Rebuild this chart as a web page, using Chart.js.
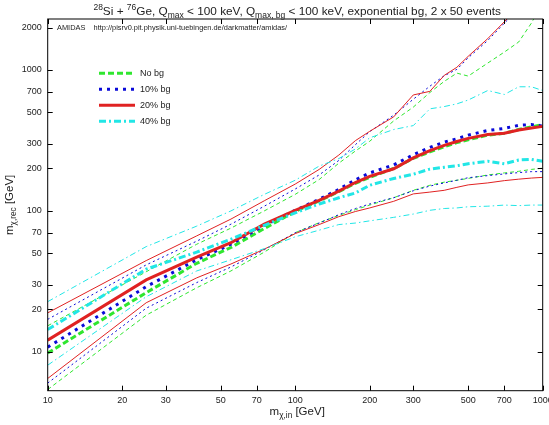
<!DOCTYPE html>
<html>
<head>
<meta charset="utf-8">
<script src="https://cdn.jsdelivr.net/npm/chart.js@4.4.1/dist/chart.umd.min.js"></script>
<style>
  html, body { margin: 0; padding: 0; background: #fff; }
  #wrap { width: 549px; height: 425px; }
</style>
</head>
<body>
<div id="wrap"><canvas id="chart" width="549" height="425"></canvas></div>
<script>
// input WIMP masses [GeV]
const masses = [10, 25, 40, 55, 75, 100, 125, 150, 175, 200, 250, 300, 350, 400, 450, 500, 600, 700, 800, 900, 1000];

// No bg
const noBgMid = [9.8, 26.3, 42.5, 55, 75, 99, 118, 137, 157, 173, 200, 236, 262, 285, 305, 320, 345, 355, 378, 395, 410];
const noBgUp  = [15.3, 37, 58, 75.5, 100, 131, 167, 218, 266, 312, 435, 545, 692, 830, 950, 905, 1120, 1340, 1580, 2150, 3000];
const noBgLo  = [5.4, 18.2, 28.5, 37.5, 51, 70, 82.5, 93, 102, 110, 124, 140, 152, 160, 165, 170, 180, 186, 191, 197, 201];

// 10% bg
const bg10Mid = [10.8, 29, 45, 58, 79, 101, 121, 142, 166, 186, 212, 250, 282, 308, 325, 345, 372, 385, 405, 410, 400];
const bg10Up  = [17.0, 41.4, 61, 80.5, 108, 143, 180, 228, 295, 365, 478, 620, 767, 910, 1010, 1220, 1620, 2150, 2700, 3300, 4000];
const bg10Lo  = [6.0, 20.4, 31, 40, 53, 70, 82, 94, 104, 112, 124, 139, 150, 158, 165, 172, 178, 183, 187, 190, 190];

// 20% bg
const bg20Mid = [12.1, 32.4, 47, 59.5, 80.5, 101, 119, 138, 159, 176, 199, 238, 268, 292, 311, 327, 348, 356, 375, 388, 398];
const bg20Up  = [18.9, 44.4, 66.5, 87.5, 118, 155, 197, 249, 315, 367, 465, 665, 705, 915, 1045, 1250, 1670, 2200, 2800, 3400, 4000];
const bg20Lo  = [6.47, 22.3, 33.5, 42, 53.5, 69, 80, 91, 99, 105, 117, 132, 136, 140, 147, 153, 158, 164, 168, 171, 173];

// 40% bg
const bg40Mid = [14.4, 38.6, 51, 63, 79, 97, 112, 124, 134, 152, 170, 182, 198, 204, 209, 216, 225, 216, 230, 232, 225];
const bg40Up  = [22.7, 55.8, 78, 100, 131, 165, 208, 235, 275, 330, 378, 403, 530, 550, 575, 612, 715, 670, 760, 760, 715];
const bg40Lo  = [8.04, 24.6, 37.5, 45, 54, 65.5, 73, 80, 82, 85, 90, 95, 101, 104, 105, 107, 108, 110, 109, 110, 110];

const xTicks = [10, 20, 30, 50, 70, 100, 200, 300, 500, 700, 1000];
const yTicks = [10, 20, 30, 50, 70, 100, 200, 300, 500, 700, 1000, 2000];

const GREEN = '#2fe62f', BLUE = '#0a0ad8', RED = '#e02222', CYAN = '#22e6e6';
const FONT = '"Liberation Sans", Arial, sans-serif';

function series(label, vals, color, width, dash) {
  return {
    label: label,
    data: masses.map((m, i) => ({ x: m, y: vals[i] })),
    borderColor: color,
    borderWidth: width,
    borderDash: dash,
    pointRadius: 0,
    tension: 0,
    fill: false,
    clip: 0
  };
}

// first dataset is drawn on top, so 40% goes first
const datasets = [
  series('40% bg', bg40Mid, CYAN, 3, [7, 3, 2, 3]),
  series('', bg40Up, CYAN, 1, [6, 3, 1.5, 3]),
  series('', bg40Lo, CYAN, 1, [6, 3, 1.5, 3]),
  series('20% bg', bg20Mid, RED, 3, []),
  series('', bg20Up, RED, 1, []),
  series('', bg20Lo, RED, 1, []),
  series('10% bg', bg10Mid, BLUE, 3, [3, 5]),
  series('', bg10Up, BLUE, 1, [2, 3]),
  series('', bg10Lo, BLUE, 1, [2, 3]),
  series('No bg', noBgMid, GREEN, 3, [6, 3]),
  series('', noBgUp, GREEN, 1, [4, 3]),
  series('', noBgLo, GREEN, 1, [4, 3])
];

// text with sub/superscripts
function richWidth(ctx, parts, size) {
  let w = 0;
  parts.forEach(p => {
    ctx.font = (p.s ? size * 0.72 : size) + 'px ' + FONT;
    w += ctx.measureText(p.t).width;
  });
  return w;
}
function drawRich(ctx, parts, x, y, size) {
  parts.forEach(p => {
    const sz = p.s ? size * 0.72 : size;
    ctx.font = sz + 'px ' + FONT;
    const dy = p.s === 'sup' ? -size * 0.42 : (p.s === 'sub' ? size * 0.3 : 0);
    ctx.fillText(p.t, x, y + dy);
    x += ctx.measureText(p.t).width;
  });
}

const titleParts = [
  { t: '28', s: 'sup' }, { t: 'Si + ' }, { t: '76', s: 'sup' }, { t: 'Ge, Q' }, { t: 'max', s: 'sub' },
  { t: ' < 100 keV, Q' }, { t: 'max, bg', s: 'sub' }, { t: ' < 100 keV, exponential bg, 2 x 50 events' }
];
const xTitleParts = [{ t: 'm' }, { t: 'χ,in', s: 'sub' }, { t: ' [GeV]' }];
const yTitleParts = [{ t: 'm' }, { t: 'χ,rec', s: 'sub' }, { t: ' [GeV]' }];

const decor = {
  id: 'decor',
  afterDraw(chart) {
    const ctx = chart.ctx, a = chart.chartArea;
    const xs = chart.scales.x, ys = chart.scales.y;
    ctx.save();

    // frame and inward ticks
    ctx.strokeStyle = '#000';
    ctx.lineWidth = 1;
    ctx.setLineDash([]);
    ctx.strokeRect(a.left, a.top, a.right - a.left, a.bottom - a.top);
    ctx.beginPath();
    xTicks.forEach(v => {
      const px = Math.round(xs.getPixelForValue(v)) + 0.5;
      ctx.moveTo(px, a.bottom); ctx.lineTo(px, a.bottom - 5);
      ctx.moveTo(px, a.top); ctx.lineTo(px, a.top + 5);
    });
    yTicks.forEach(v => {
      const py = Math.round(ys.getPixelForValue(v)) + 0.5;
      ctx.moveTo(a.left, py); ctx.lineTo(a.left + 5, py);
      ctx.moveTo(a.right, py); ctx.lineTo(a.right - 5, py);
    });
    ctx.stroke();

    ctx.fillStyle = '#222';
    ctx.textBaseline = 'alphabetic';

    // title
    const tw = richWidth(ctx, titleParts, 11.8);
    drawRich(ctx, titleParts, (a.left + a.right) / 2 - tw / 2 + 2, 14.5, 11.8);

    // x axis title
    const xw = richWidth(ctx, xTitleParts, 11.5);
    drawRich(ctx, xTitleParts, (a.left + a.right) / 2 - xw / 2 + 2, 415, 11.5);

    // y axis title
    ctx.save();
    ctx.translate(13, (a.top + a.bottom) / 2);
    ctx.rotate(-Math.PI / 2);
    const yw = richWidth(ctx, yTitleParts, 11.5);
    drawRich(ctx, yTitleParts, -yw / 2, 0, 11.5);
    ctx.restore();

    // program label
    ctx.font = '7.4px ' + FONT;
    ctx.fillText('AMIDAS    http://pisrv0.pit.physik.uni-tuebingen.de/darkmatter/amidas/', 57, 29.5);

    // legend from the median datasets
    const legendSets = [9, 6, 3, 0].map(i => chart.data.datasets[i]);
    ctx.font = '9px ' + FONT;
    ctx.textBaseline = 'middle';
    legendSets.forEach((ds, k) => {
      const ly = 73.3 + k * 16;
      ctx.strokeStyle = ds.borderColor;
      ctx.lineWidth = ds.borderWidth;
      ctx.setLineDash(ds.borderDash);
      ctx.beginPath();
      ctx.moveTo(99, ly); ctx.lineTo(135, ly);
      ctx.stroke();
      ctx.fillStyle = '#222';
      ctx.fillText(ds.label, 140, ly);
    });
    ctx.restore();
  }
};

new Chart(document.getElementById('chart'), {
  type: 'line',
  data: { datasets: datasets },
  options: {
    responsive: false,
    animation: false,
    layout: { padding: { left: 0, top: 19, right: 6.3, bottom: 0 } },
    plugins: { legend: { display: false }, tooltip: { enabled: false }, title: { display: false } },
    scales: {
      x: {
        type: 'logarithmic', min: 10, max: 1000,
        grid: { display: false, drawTicks: false }, border: { display: false },
        ticks: { autoSkip: false, maxRotation: 0, padding: 4.5, color: '#222', font: { family: FONT, size: 9 },
          callback: v => String(v) },
        afterBuildTicks: s => { s.ticks = xTicks.map(v => ({ value: v })); },
        afterFit: s => { s.height = 34.3; s.paddingLeft = 0; s.paddingRight = 0; }
      },
      y: {
        type: 'logarithmic', min: 5.3, max: 2300,
        grid: { display: false, drawTicks: false }, border: { display: false },
        ticks: { autoSkip: false, padding: 6, color: '#222', font: { family: FONT, size: 9 },
          callback: v => String(v) },
        afterBuildTicks: s => { s.ticks = yTicks.map(v => ({ value: v })); },
        afterFit: s => { s.width = 47.7; s.paddingTop = 0; s.paddingBottom = 0; }
      }
    }
  },
  plugins: [decor]
});
</script>
</body>
</html>
